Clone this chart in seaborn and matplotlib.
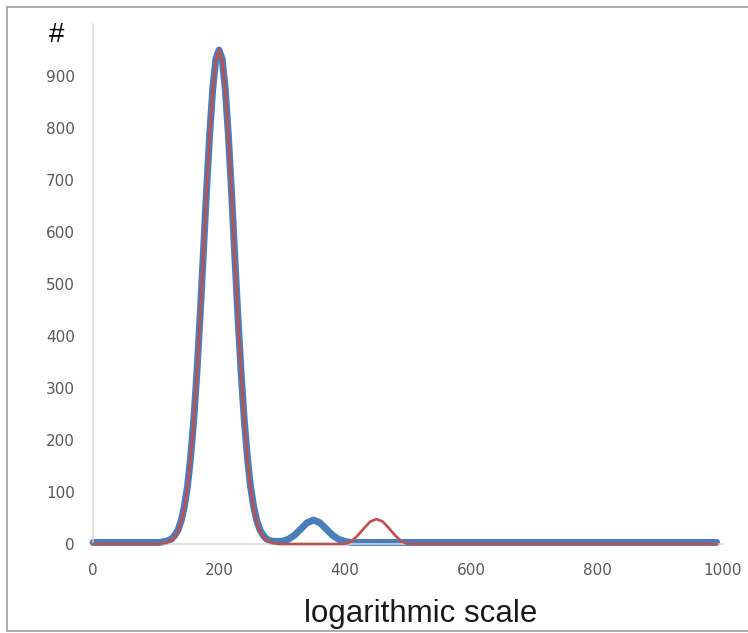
import matplotlib
matplotlib.use("Agg")
import matplotlib.pyplot as plt
from matplotlib.lines import Line2D
import seaborn as sns
import pandas as pd

# ---- data ----
x_values = ([0, 50] + list(range(100, 301, 5)) + list(range(310, 501, 10))
            + [600, 700, 800, 900, 990])

blue_counts = ([3, 3] +
               [3, 3, 4, 5, 7, 10, 17, 27, 45, 72, 111, 167, 240, 331, 438, 555, 674,
                784, 874, 933, 950, 933, 874, 784, 674, 555, 438, 331, 240, 167, 111,
                72, 45, 27, 17, 10, 7, 5, 5, 5, 5] +
               [9, 17, 29, 41, 46, 41, 29, 17, 9, 5, 3, 3, 3, 3, 3, 3, 3, 3, 3, 3] +
               [3, 3, 3, 3, 3])

red_counts = ([0, 0] +
              [0, 0, 1, 2, 4, 7, 14, 24, 42, 69, 108, 164, 237, 328, 435, 552, 671,
               781, 871, 930, 950, 930, 871, 781, 671, 552, 435, 328, 237, 164, 108,
               69, 42, 24, 14, 7, 4, 2, 1, 0, 0] +
              [0, 0, 0, 0, 0, 0, 0, 0, 0, 0, 5, 16, 30, 43, 48, 43, 30, 16, 5, 0] +
              [0, 0, 0, 0, 0])

x_ticks = [0, 200, 400, 600, 800, 1000]
y_ticks = [0, 100, 200, 300, 400, 500, 600, 700, 800, 900, 1000]
y_tick_labels = ["0", "100", "200", "300", "400", "500", "600", "700", "800", "900", ""]
x_label = "logarithmic scale"
y_label = "#"

df_blue = pd.DataFrame({"x": x_values, "count": blue_counts})
df_red = pd.DataFrame({"x": x_values, "count": red_counts})

sns.set_style("white")
plt.rcParams["font.family"] = ["DejaVu Sans"]

W, H = 748, 633
fig = plt.figure(figsize=(W / 100, H / 100), dpi=100)
ax = fig.add_axes([93 / W, (H - 544) / H, (723 - 93) / W, (544 - 24) / H])

sns.lineplot(data=df_blue, x="x", y="count", ax=ax, color="#4a7ebb",
             linewidth=5, sort=False, clip_on=False, solid_capstyle="round",
             solid_joinstyle="round", zorder=2)
sns.lineplot(data=df_red, x="x", y="count", ax=ax, color="#c0504d",
             linewidth=1.9, sort=False, clip_on=False, solid_joinstyle="round",
             zorder=3)

ax.set_xlim(0, 1000)
ax.set_ylim(0, 1000)
ax.set_xticks(x_ticks)
ax.set_xticklabels([str(t) for t in x_ticks])
ax.set_yticks(y_ticks)
ax.set_yticklabels(y_tick_labels)
ax.set_xlabel("")
ax.set_ylabel("")

for s in ["top", "right"]:
    ax.spines[s].set_visible(False)
for s in ["left", "bottom"]:
    ax.spines[s].set_color("#d9d9d9")
    ax.spines[s].set_linewidth(1.1)

ax.tick_params(axis="both", which="major", direction="out", length=3.5,
               width=1.0, color="#d9d9d9", labelsize=11, labelcolor="#595959")
ax.tick_params(axis="y", pad=9.5)
ax.tick_params(axis="x", pad=10)

# axis titles
fig.text(57 / W, 1 - 35 / H, y_label, fontsize=20, color="black",
         ha="center", va="center", family="Liberation Sans")
fig.text(421 / W, 1 - 622 / H, x_label, fontsize=22.5, color="#1a1a1a",
         ha="center", va="baseline", family="Liberation Sans")

# outer frame (top, left, bottom)
frame_kw = dict(color="#a6a6a6", linewidth=1.3, transform=fig.transFigure)
fig.lines.append(Line2D([7 / W, 1.0], [1 - 7 / H, 1 - 7 / H], **frame_kw))
fig.lines.append(Line2D([7 / W, 7 / W], [1 - 7 / H, 1 - 631 / H], **frame_kw))
fig.lines.append(Line2D([7 / W, 1.0], [1 - 631 / H, 1 - 631 / H], **frame_kw))

fig.savefig("out.png", dpi=100, facecolor="white")
